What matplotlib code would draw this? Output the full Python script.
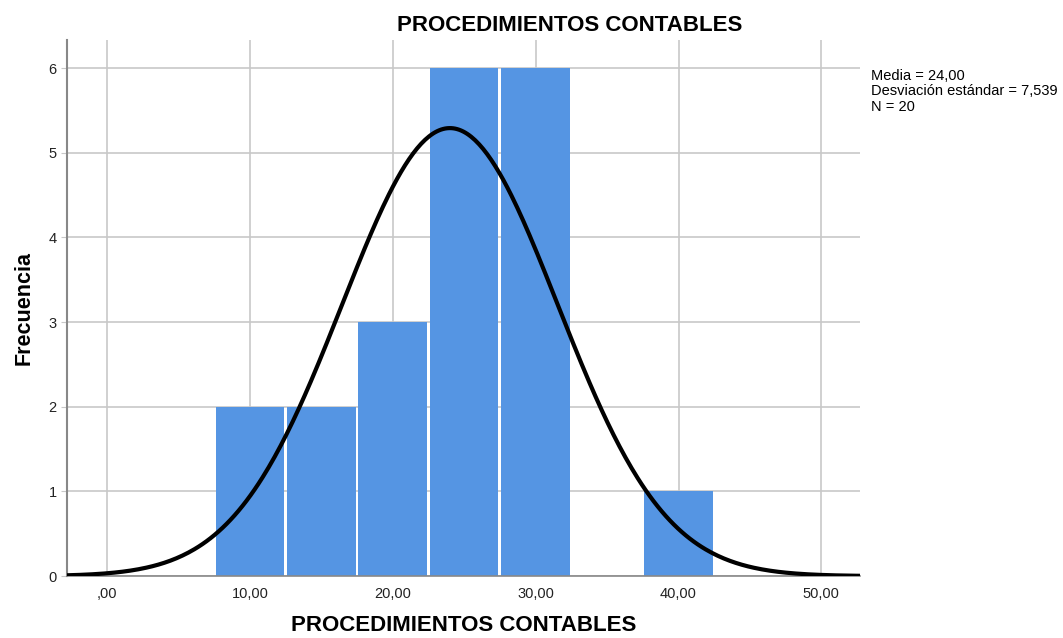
import numpy as np
import matplotlib
matplotlib.use("Agg")
import matplotlib.pyplot as plt

# histogram data (bin centers, counts)
bin_centers = [10, 15, 20, 25, 30, 40]
counts = [2, 2, 3, 6, 6, 1]
bin_width = 5
mean = 24.00
std = 7.539
n = 20

x_ticks = [0, 10, 20, 30, 40, 50]
x_tick_labels = [",00", "10,00", "20,00", "30,00", "40,00", "50,00"]
y_ticks = [0, 1, 2, 3, 4, 5, 6]

plt.rcParams["font.family"] = ["Liberation Sans", "DejaVu Sans"]

fig = plt.figure(figsize=(10.63, 6.38), dpi=100)
ax = fig.add_axes([0.063, 0.097, 0.746, 0.84])

ax.bar(bin_centers, counts, width=bin_width - 0.2, color="#5595e3",
       linewidth=0, zorder=2)

# fitted normal curve scaled to the histogram
xs = np.linspace(-3, 53, 400)
curve = n * bin_width * np.exp(-0.5 * ((xs - mean) / std) ** 2) / (std * np.sqrt(2 * np.pi))
ax.plot(xs, curve, color="black", linewidth=3, zorder=3)

ax.set_xlim(-2.8, 52.7)
ax.set_ylim(0, 6.33)
ax.set_xticks(x_ticks)
ax.set_xticklabels(x_tick_labels)
ax.set_yticks(y_ticks)
ax.grid(True, color="#c8c8c8", linewidth=1.2, zorder=0)
ax.set_axisbelow(True)
ax.tick_params(axis="x", length=0, labelsize=10.5, pad=8, colors="#222222")
ax.tick_params(axis="y", length=4, labelsize=10.5, color="#c8c8c8", labelcolor="#222222")

for side in ["top", "right"]:
    ax.spines[side].set_visible(False)
ax.spines["left"].set_color("#888888")
ax.spines["left"].set_linewidth(1.5)
ax.spines["bottom"].set_color("#888888")
ax.spines["bottom"].set_linewidth(1.2)

fig.text(0.536, 0.96, "PROCEDIMIENTOS CONTABLES", fontsize=16, fontweight="bold",
         ha="center", va="center")
ax.set_xlabel("PROCEDIMIENTOS CONTABLES", fontsize=16, fontweight="bold", labelpad=10)
ax.set_ylabel("Frecuencia", fontsize=15.5, fontweight="bold", labelpad=10)

fig.text(0.819, 0.892, "Media = 24,00\nDesviación estándar = 7,539\nN = 20",
         fontsize=10.5, va="top", ha="left", linespacing=1.12)

fig.savefig("out.png", dpi=100)
